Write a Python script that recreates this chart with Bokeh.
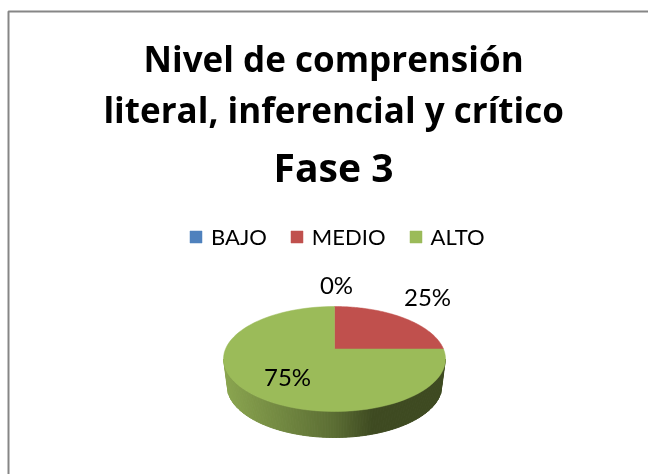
import numpy as np
from bokeh.core.properties import value
from bokeh.embed import file_html
from bokeh.models import Legend, LegendItem, Range1d
from bokeh.plotting import figure
from bokeh.resources import INLINE

# Data
categories = ["BAJO", "MEDIO", "ALTO"]
percent = [0, 25, 75]
colors = ["#4F81BD", "#C0504D", "#9BBB59"]
title_lines = ["Nivel de comprensión", "literal, inferencial y crítico", "Fase 3"]
side_stops = [0.0, 0.5, 0.68, 1.0]
side_colors = [(139, 166, 80), (92, 110, 52), (62, 74, 33), (62, 74, 33)]

# Layout (page pixels)
W, H = 648, 474
CX, CY, A, B = 334.0, 358.5, 111.0, 52.5   # top face
D = 10.0 / 52.5                            # perspective shift of the pie centre
BX, BY, BA, BB = 334.0, 385.0, 107.5, 52.0 # lower rim

p = figure(width=W, height=H, output_backend="svg", toolbar_location=None,
           x_range=Range1d(0, W), y_range=Range1d(H, 0), min_border=0,
           outline_line_color=None, background_fill_color="white")
p.styles = {"position": "fixed", "left": "0px", "top": "0px", "letter-spacing": "0.01px"}
p.xaxis.visible = False
p.yaxis.visible = False
p.grid.visible = False

# chart frame (open at right and bottom, as cropped)
p.line([8, 8, W], [H, 11, 11], line_color="#868686", line_width=2)


def face_point(theta):
    """Circle angle -> page position on the top face, with perspective."""
    u, v = np.cos(theta), np.sin(theta)
    k = 1 + D * v
    return CX + A * u * np.sqrt(1 - D * D) / k, CY - B * (v + D) / k


def wedge(start, end):
    x, y = face_point(np.linspace(start, end, 90))
    return np.r_[CX, x], np.r_[CY - B * D, y]


# side wall: vertical shading strips between the top rim and the lower rim
n_strips = 150
fr = np.linspace(-1, 1, n_strips + 1)
sx, sy, sc = [], [], []
for f0, f1 in zip(fr[:-1], fr[1:]):
    tm0, tm1 = np.arccos(f0), np.arccos(f1)
    xs = [CX + A * f0, CX + A * f1, BX + BA * f1, BX + BA * f0]
    ys = [CY + B * np.sin(tm0), CY + B * np.sin(tm1),
          BY + BB * np.sin(tm1), BY + BB * np.sin(tm0)]
    sx.append(xs)
    sy.append(ys)
    f = (f0 + f1 + 2) / 4
    rgb = [int(np.interp(f, side_stops, [c[i] for c in side_colors])) for i in range(3)]
    sc.append("#%02x%02x%02x" % tuple(rgb))
p.patches(sx, sy, fill_color=sc, line_color=sc, line_width=1)

# pie slices, clockwise from twelve o'clock
items = []
angle = np.pi / 2
for name, pct, col in zip(categories, percent, colors):
    span = 2 * np.pi * pct / 100
    if pct > 0:
        x, y = wedge(angle, angle - span)
    else:
        x, y = [CX], [CY - B * D]
    r = p.patch(x, y, fill_color=col, line_color=col, line_width=0.5)
    items.append(LegendItem(label=value(name), renderers=[r]))
    angle -= span

# slice labels
lab_x = [336, 427, 287]
lab_y = [284, 296, 376]
p.text(lab_x, lab_y, text=["%d%%" % v for v in percent], text_align="center",
       text_baseline="middle", text_font=value("Lato"), text_font_size="24px",
       text_color="black")

# title
p.text([333, 333], [58, 109], text=title_lines[:2], text_align="center",
       text_baseline="alphabetic", text_font=value("Open Sans"), text_font_style="bold",
       text_font_size="35px", text_color="black")
p.text([333], [166], text=title_lines[2:], text_align="center",
       text_baseline="alphabetic", text_font=value("Open Sans"), text_font_style="bold",
       text_font_size="39px", text_color="black")

legend = Legend(items=items, orientation="horizontal", location=(188, H - 250),
                border_line_color=None, background_fill_alpha=0,
                label_text_font="Lato", label_text_font_size="22px",
                label_text_color="black", glyph_width=15, glyph_height=15,
                spacing=22, padding=0, margin=0, label_standoff=8)
p.add_layout(legend, "center")

open("out.html", "w").write(file_html(p, INLINE))
